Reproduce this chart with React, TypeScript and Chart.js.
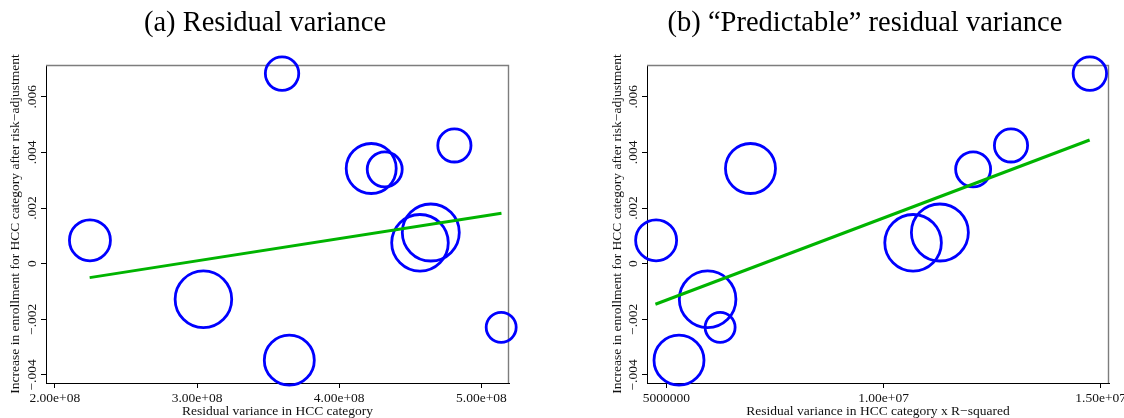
import React, { useEffect, useRef } from "react";
import { Chart, registerables } from "chart.js";

Chart.register(...registerables);

const FONT = "'Liberation Serif', 'Times New Roman', serif";

// Shared y values (increase in enrollment after risk-adjustment) and bubble sizes (enrollment weights)
const yTickValues = [-0.004, -0.002, 0, 0.002, 0.004, 0.006];
const yTickLabels = ["−.004", "−.002", "0", ".002", ".004", ".006"];
const increaseAfterRA = [0.00084, -0.00128, 0.00683, -0.00347, 0.00342, 0.00339, 0.00425, 0.00112, 0.00075, -0.00229];
const bubbleRadius = [20.5, 28.3, 16.7, 25, 25, 17.5, 16.6, 28.5, 28.3, 15];

// Panel (a): residual variance
const residVar = [2.247e8, 3.045e8, 3.598e8, 3.649e8, 4.225e8, 4.32e8, 4.81e8, 4.644e8, 4.568e8, 5.139e8];
const residVarFitX = [2.245e8, 5.141e8];
const residVarFitY = [-0.000503, 0.00181];
const residVarTicks = [2e8, 3e8, 4e8, 5e8];
const residVarTickLabels = ["2.00e+08", "3.00e+08", "4.00e+08", "5.00e+08"];

// Panel (b): residual variance x R-squared
const predVar = [4.761e6, 5.947e6, 1.475e7, 5.288e6, 6.934e6, 1.2062e7, 1.2934e7, 1.1296e7, 1.0679e7, 6.235e6];
const predVarFitX = [4.745e6, 1.4745e7];
const predVarFitY = [-0.00146, 0.004445];
const predVarTicks = [5e6, 1e7, 1.5e7];
const predVarTickLabels = ["5000000", "1.00e+07", "1.50e+07"];

const Y_TITLE = "Increase in enrollment for HCC category after risk−adjustment";

type PanelProps = {
  left: number;
  width: number;
  yAxisWidth: number;
  plotRight: number;
  xMin: number;
  xMax: number;
  xs: number[];
  fitX: number[];
  fitY: number[];
  xTicks: number[];
  xTickLabels: string[];
  xTitle: string;
  title: string;
  titleX: number;
  yTitleX: number;
};

function labelFor(values: number[], labels: string[], v: number) {
  for (let i = 0; i < values.length; i++) {
    if (Math.abs(values[i] - v) <= Math.abs(values[i]) * 1e-9 + 1e-12) return labels[i];
  }
  return "";
}

function Panel(p: PanelProps) {
  const ref = useRef<HTMLCanvasElement | null>(null);
  useEffect(() => {
    if (!ref.current) return;
    const decor = {
      id: "decor",
      beforeDatasetsDraw(chart: any) {
        const { ctx, chartArea } = chart;
        ctx.save();
        ctx.strokeStyle = "rgb(125,125,125)";
        ctx.lineWidth = 1.4;
        ctx.beginPath();
        ctx.moveTo(chartArea.left, chartArea.top + 0.5);
        ctx.lineTo(chartArea.right - 0.5, chartArea.top + 0.5);
        ctx.lineTo(chartArea.right - 0.5, chartArea.bottom);
        ctx.stroke();
        ctx.restore();
      },
      afterDraw(chart: any) {
        const { ctx, chartArea } = chart;
        ctx.save();
        ctx.fillStyle = "#000";
        ctx.font = `28.5px ${FONT}`;
        ctx.textAlign = "center";
        ctx.textBaseline = "alphabetic";
        ctx.fillText(p.title, p.titleX, 31);
        ctx.translate(p.yTitleX, (chartArea.top + chartArea.bottom) / 2);
        ctx.rotate(-Math.PI / 2);
        ctx.font = `13.5px ${FONT}`;
        ctx.textBaseline = "middle";
        ctx.fillStyle = "#111";
        ctx.fillText(Y_TITLE, 0, 0);
        ctx.restore();
      },
    };
    const chart = new Chart(ref.current, {
      type: "bubble",
      data: {
        datasets: [
          {
            type: "line",
            data: p.fitX.map((x, i) => ({ x, y: p.fitY[i] })),
            borderColor: "#00b400",
            borderWidth: 3,
            pointRadius: 0,
            pointHoverRadius: 0,
            fill: false,
            clip: false,
            order: 1,
          } as any,
          {
            type: "bubble",
            data: p.xs.map((x, i) => ({ x, y: increaseAfterRA[i], r: bubbleRadius[i] })),
            backgroundColor: "rgba(0,0,0,0)",
            borderColor: "#0000ff",
            borderWidth: 2.8,
            hoverBorderWidth: 2.8,
            clip: false,
            order: 2,
          } as any,
        ],
      },
      options: {
        responsive: false,
        animation: false,
        events: [],
        layout: { padding: { left: 0, right: p.width - p.plotRight, top: 65, bottom: 0 } },
        plugins: { legend: { display: false }, tooltip: { enabled: false }, title: { display: false } },
        scales: {
          x: {
            type: "linear",
            min: p.xMin,
            max: p.xMax,
            afterBuildTicks: (s: any) => {
              s.ticks = p.xTicks.map((v) => ({ value: v }));
            },
            afterFit: (s: any) => {
              s.height = 35;
            },
            ticks: {
              autoSkip: false,
              maxRotation: 0,
              minRotation: 0,
              padding: 2,
              color: "#111",
              font: { family: FONT, size: 13.5 },
              callback: (v: any) => labelFor(p.xTicks, p.xTickLabels, Number(v)),
            },
            grid: { drawOnChartArea: false, drawTicks: true, tickLength: 5, tickColor: "#000", tickWidth: 1 },
            border: { display: true, color: "#000", width: 1 },
            title: {
              display: true,
              text: p.xTitle,
              color: "#111",
              font: { family: FONT, size: 13.5, lineHeight: 1 },
              padding: { top: 0, bottom: 0 },
            },
          },
          y: {
            type: "linear",
            min: -0.00429,
            max: 0.00714,
            afterBuildTicks: (s: any) => {
              s.ticks = yTickValues.map((v) => ({ value: v }));
            },
            afterFit: (s: any) => {
              s.width = p.yAxisWidth;
            },
            ticks: {
              autoSkip: false,
              minRotation: 90,
              maxRotation: 90,
              crossAlign: "center",
              padding: -6.6,
              color: "#111",
              font: { family: FONT, size: 13.5 },
              callback: (v: any) => labelFor(yTickValues, yTickLabels, Number(v)),
            },
            grid: { drawOnChartArea: false, drawTicks: true, tickLength: 5, tickColor: "#000", tickWidth: 1 },
            border: { display: true, color: "#000", width: 1 },
          },
        },
      } as any,
      plugins: [decor],
    });
    return () => chart.destroy();
  }, []);
  return (
    <canvas
      ref={ref}
      width={p.width}
      height={418}
      style={{ position: "absolute", left: p.left, top: 0, width: p.width, height: 418, display: "block" }}
    />
  );
}

export default function App() {
  return (
    <div style={{ position: "fixed", left: 0, top: 0, width: 1124, height: 418, overflow: "hidden", background: "#fff" }}>
      <Panel
        left={0}
        width={562}
        yAxisWidth={46}
        plotRight={509}
        xMin={1.938e8}
        xMax={5.194e8}
        xs={residVar}
        fitX={residVarFitX}
        fitY={residVarFitY}
        xTicks={residVarTicks}
        xTickLabels={residVarTickLabels}
        xTitle="Residual variance in HCC category"
        title="(a) Residual variance"
        titleX={265}
        yTitleX={15}
      />
      <Panel
        left={562}
        width={600}
        yAxisWidth={85}
        plotRight={547}
        xMin={4.551e6}
        xMax={1.5191e7}
        xs={predVar}
        fitX={predVarFitX}
        fitY={predVarFitY}
        xTicks={predVarTicks}
        xTickLabels={predVarTickLabels}
        xTitle="Residual variance in HCC category x R−squared"
        title="(b) “Predictable” residual variance"
        titleX={303}
        yTitleX={55}
      />
    </div>
  );
}
